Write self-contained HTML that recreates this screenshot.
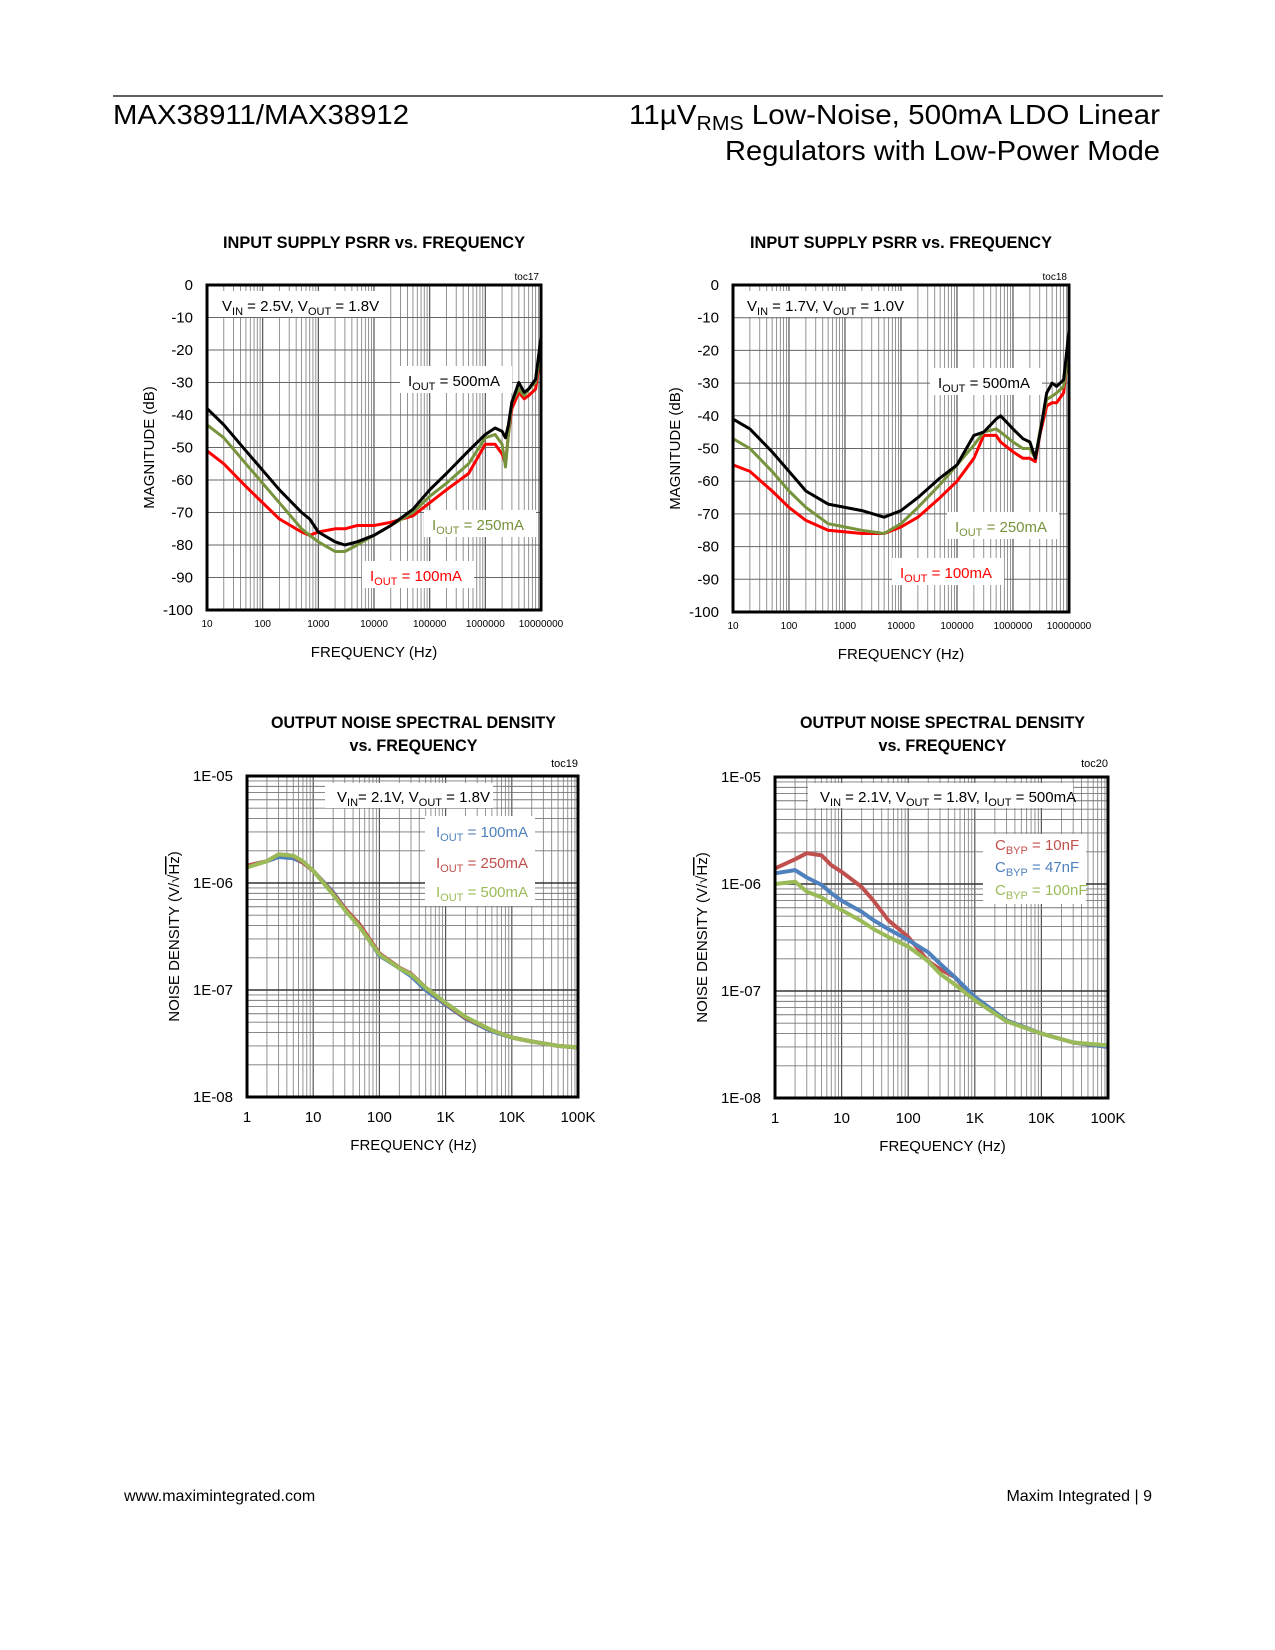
<!DOCTYPE html>
<html><head><meta charset="utf-8"><style>
html,body{margin:0;padding:0;background:#fff;}
svg{display:block;font-family:"Liberation Sans",Arial,sans-serif;}
</style></head><body>
<svg id="page" width="1275" height="1650" viewBox="0 0 1275 1650" xmlns="http://www.w3.org/2000/svg">
<rect width="1275" height="1650" fill="#fff"/>
<line x1="113" y1="96" x2="1163" y2="96" stroke="#000" stroke-width="1.2"/>
<text x="113" y="124" font-size="28" textLength="296" lengthAdjust="spacingAndGlyphs">MAX38911/MAX38912</text>
<text x="629" y="124" font-size="28" textLength="531" lengthAdjust="spacingAndGlyphs">11µV<tspan font-size="20" dy="6">RMS</tspan><tspan dy="-6"> Low-Noise, 500mA LDO Linear</tspan></text>
<text x="725" y="160" font-size="28" textLength="435" lengthAdjust="spacingAndGlyphs">Regulators with Low-Power Mode</text>
<text x="124" y="1501" font-size="16">www.maximintegrated.com</text>
<text x="1152" y="1501" font-size="16" text-anchor="end">Maxim Integrated | 9</text>
<g id="charts"></g>
</svg>
<script>
// ---------- Chart data ----------
// toc17
const psrr1Freq = [10,20,50,100,200,500,700,1000,2000,3000,5000,10000,20000,50000,1e5,2e5,5e5,1e6,1.5e6,2e6,2.3e6,2.6e6,3e6,4e6,5e6,6e6,8e6,1e7];
const psrr1Black = [-38,-43,-51,-57,-63,-70,-72,-76,-79,-80,-79,-77,-74,-69,-63,-58,-51,-46,-44,-45,-47,-43,-36,-30,-33,-32,-29,-16];
const psrr1Green = [-43,-47,-55,-61,-67,-75,-77,-79,-82,-82,-80,-77,-74,-70,-65,-61,-55,-47,-46,-49,-56,-46,-36,-32,-34,-32,-30,-20];
const psrr1Red = [-51,-55,-62,-67,-72,-76,-77,-76,-75,-75,-74,-74,-73,-71,-67,-63,-58,-49,-49,-52,-55,-46,-38,-33,-35,-34,-32,-20];
// toc18
const psrr2Freq = [10,20,50,100,200,500,1000,2000,5000,10000,20000,50000,1e5,2e5,3e5,5e5,6e5,1e6,1.5e6,2e6,2.5e6,3e6,4e6,5e6,6e6,8e6,1e7];
const psrr2Black = [-41,-44,-51,-57,-63,-67,-68,-69,-71,-69,-65,-59,-55,-46,-45,-41,-40,-44,-47,-48,-53,-46,-33,-30,-31,-29,-14];
const psrr2Green = [-47,-50,-57,-63,-68,-73,-74,-75,-76,-73,-68,-61,-55,-49,-45,-44,-45,-48,-50,-50,-53,-45,-35,-34,-33,-31,-20];
const psrr2Red = [-55,-57,-63,-68,-72,-75,-75.5,-76,-76,-74,-71,-65,-60,-53,-46,-46,-48,-51,-53,-53,-54,-46,-37,-36,-36,-33,-18];
const psrrYTicks = ["0","-10","-20","-30","-40","-50","-60","-70","-80","-90","-100"];
const psrrXTicks = ["10","100","1000","10000","100000","1000000","10000000"];
// toc19
const noise1Freq = [1,2,3,5,7,10,20,30,50,100,200,300,500,1000,2000,5000,10000,20000,50000,100000];
const noise1Blue = [1.45e-6,1.6e-6,1.75e-6,1.7e-6,1.55e-6,1.3e-6,8.2e-7,5.8e-7,4.0e-7,2.1e-7,1.6e-7,1.35e-7,1.0e-7,7.3e-8,5.4e-8,4.1e-8,3.6e-8,3.3e-8,3.0e-8,2.9e-8];
const noise1Red = [1.45e-6,1.6e-6,1.85e-6,1.8e-6,1.55e-6,1.3e-6,8.0e-7,5.8e-7,4.1e-7,2.2e-7,1.62e-7,1.42e-7,1.05e-7,7.5e-8,5.5e-8,4.2e-8,3.6e-8,3.3e-8,3.0e-8,2.9e-8];
const noise1Green = [1.4e-6,1.6e-6,1.85e-6,1.8e-6,1.6e-6,1.3e-6,7.8e-7,5.6e-7,3.9e-7,2.15e-7,1.6e-7,1.4e-7,1.05e-7,7.6e-8,5.6e-8,4.2e-8,3.6e-8,3.3e-8,3.0e-8,2.9e-8];
// toc20
const noise2Freq = [1,2,3,5,7,10,20,30,50,100,200,300,500,1000,3000,10000,30000,100000];
const noise2Red = [1.4e-6,1.7e-6,1.94e-6,1.85e-6,1.5e-6,1.3e-6,9.4e-7,7e-7,4.6e-7,3.2e-7,1.9e-7,1.6e-7,1.35e-7,8.2e-8,5.3e-8,4.0e-8,3.3e-8,3.0e-8];
const noise2Blue = [1.26e-6,1.35e-6,1.15e-6,9.8e-7,8.2e-7,7.0e-7,5.5e-7,4.6e-7,3.8e-7,3.0e-7,2.3e-7,1.8e-7,1.35e-7,8.8e-8,5.3e-8,4.0e-8,3.3e-8,3.0e-8];
const noise2Green = [1.0e-6,1.05e-6,8.5e-7,7.5e-7,6.5e-7,5.7e-7,4.5e-7,3.8e-7,3.2e-7,2.6e-7,1.9e-7,1.45e-7,1.15e-7,8.2e-8,5.2e-8,4.0e-8,3.3e-8,3.1e-8];
const noiseYTicks = ["1E-05","1E-06","1E-07","1E-08"];
const noiseXTicks = ["1","10","100","1K","10K","100K"];

const NS = "http://www.w3.org/2000/svg";
const root = document.getElementById('charts');
function mk(tag, attrs, parent){
  const e = document.createElementNS(NS, tag);
  for (const k in attrs) e.setAttribute(k, attrs[k]);
  (parent||root).appendChild(e);
  return e;
}
function logX(c, f){ return c.x0 + (Math.log10(f) - c.dLo) / (c.dHi - c.dLo) * (c.x1 - c.x0); }
function linY(c, v){ return c.y0 + (c.yTop - v) / (c.yTop - c.yBot) * (c.y1 - c.y0); }
function logY(c, v){ return c.y0 + (c.yTop - Math.log10(v)) / (c.yTop - c.yBot) * (c.y1 - c.y0); }

function drawGrid(c, g){
  for (let d = c.dLo; d < c.dHi; d++){
    for (let m = 1; m < 10; m++){
      const x = logX(c, Math.pow(10, d) * m);
      mk('line', {x1:x, y1:c.y0, x2:x, y2:c.y1, stroke: m===1?'#555':'#888', 'stroke-width': m===1?1.2:0.9}, g);
    }
  }
  if (c.logy){
    for (let d = c.yBot; d < c.yTop; d++){
      for (let m = 1; m < 10; m++){
        const y = logY(c, Math.pow(10, d) * m);
        mk('line', {x1:c.x0, y1:y, x2:c.x1, y2:y, stroke: m===1?'#333':'#777', 'stroke-width': m===1?1.4:0.9}, g);
      }
    }
  } else {
    for (let v = c.yBot; v <= c.yTop; v += 10){
      const y = linY(c, v);
      mk('line', {x1:c.x0, y1:y, x2:c.x1, y2:y, stroke:'#666', 'stroke-width':1}, g);
    }
  }
}
function drawSeries(c, g, xs, ys, color, w, name){
  const pts = xs.map((f,i) => logX(c,f).toFixed(1) + ',' + (c.logy ? logY(c, ys[i]) : linY(c, ys[i])).toFixed(1)).join(' ');
  const pl = mk('polyline', {points:pts, fill:'none', stroke:color, 'stroke-width':w, 'stroke-linejoin':'round'}, g);
  
  
}
function labelBox(g, x, y, w, h, name){
  const r = mk('rect', {x:x, y:y, width:w, height:h, fill:'#fff'}, g);
  
  
}
function txt(g, x, y, s, size, attrs, name){
  const t = mk('text', Object.assign({x:x, y:y, 'font-size':size}, attrs||{}), g);
  t.innerHTML = s;
  
  
  return t;
}
function frame(c, g){
  const r = mk('rect', {x:c.x0, y:c.y0, width:c.x1-c.x0, height:c.y1-c.y0, fill:'none', stroke:'#000', 'stroke-width':3}, g);
  
  
}

// ---------- PSRR charts ----------
function psrrChart(c, freq, black, green, red, id, vinText, ann){
  const g = mk('g', {});
  
  
  const cx = (c.x0 + c.x1) / 2;
  txt(g, cx, 248, 'INPUT SUPPLY PSRR vs. FREQUENCY', 17, {'text-anchor':'middle','font-weight':'bold', textLength:302, lengthAdjust:'spacingAndGlyphs'}, 'chart-title');
  txt(g, c.x1-2, 280, id, 10, {'text-anchor':'end'}, 'figure-id');
  drawGrid(c, g);
  labelBox(g, ann.vin[0], ann.vin[1], ann.vin[2], 26, 'condition-box');
  labelBox(g, ann.a500[0]-8, ann.a500[1]-20, 112, 27, 'label-box-500ma');
  labelBox(g, ann.a250[0]-8, ann.a250[1]-20, 112, 27, 'label-box-250ma');
  labelBox(g, ann.a100[0]-8, ann.a100[1]-20, 112, 27, 'label-box-100ma');
  drawSeries(c, g, freq, red, '#ff0000', 3, 'series-100ma');
  drawSeries(c, g, freq, green, '#77933c', 3, 'series-250ma');
  drawSeries(c, g, freq, black, '#000000', 3, 'series-500ma');
  frame(c, g);
  txt(g, ann.vin[0]+9, ann.vin[1]+20, vinText, 15, {}, 'condition-label');
  txt(g, ann.a500[0], ann.a500[1], 'I<tspan font-size="11" dy="4">OUT</tspan><tspan dy="-4"> = 500mA</tspan>', 15, {fill:'#000'}, 'label-500ma');
  txt(g, ann.a250[0], ann.a250[1], 'I<tspan font-size="11" dy="4">OUT</tspan><tspan dy="-4"> = 250mA</tspan>', 15, {fill:'#77933c'}, 'label-250ma');
  txt(g, ann.a100[0], ann.a100[1], 'I<tspan font-size="11" dy="4">OUT</tspan><tspan dy="-4"> = 100mA</tspan>', 15, {fill:'#ff0000'}, 'label-100ma');
  psrrYTicks.forEach((s,i) => {
    txt(g, c.x0-14, linY(c, c.yTop - i*10) + 5, s, 15, {'text-anchor':'end'}, 'y-tick-label');
  });
  psrrXTicks.forEach((s,i) => {
    txt(g, logX(c, Math.pow(10, c.dLo + i)), c.y1 + 17, s, 10, {'text-anchor':'middle'}, 'x-tick-label');
  });
  txt(g, cx, c.y1 + 47, 'FREQUENCY (Hz)', 15, {'text-anchor':'middle'}, 'x-axis-title');
  const ym = (c.y0 + c.y1) / 2;
  txt(g, c.x0 - 53, ym, 'MAGNITUDE (dB)', 15, {'text-anchor':'middle', transform:'rotate(-90 ' + (c.x0-53) + ' ' + ym + ')'}, 'y-axis-title');
}
psrrChart({x0:207,x1:541,y0:285,y1:610,dLo:1,dHi:7,yTop:0,yBot:-100,logy:false},
  psrr1Freq, psrr1Black, psrr1Green, psrr1Red, 'toc17',
  'V<tspan font-size="11" dy="4">IN</tspan><tspan dy="-4"> = 2.5V, V</tspan><tspan font-size="11" dy="4">OUT</tspan><tspan dy="-4"> = 1.8V</tspan>',
  {vin:[213,291,165], a500:[408,386], a250:[432,530], a100:[370,581]});
psrrChart({x0:733,x1:1069,y0:285,y1:612,dLo:1,dHi:7,yTop:0,yBot:-100,logy:false},
  psrr2Freq, psrr2Black, psrr2Green, psrr2Red, 'toc18',
  'V<tspan font-size="11" dy="4">IN</tspan><tspan dy="-4"> = 1.7V, V</tspan><tspan font-size="11" dy="4">OUT</tspan><tspan dy="-4"> = 1.0V</tspan>',
  {vin:[738,291,165], a500:[938,388], a250:[955,532], a100:[900,578]});

// ---------- Noise charts ----------
function noiseChart(c, freq, s1, s2, s3, cols, names, labels, id, vinText, vinBox, legBox, legY, legX){
  const g = mk('g', {});
  
  
  const cx = (c.x0 + c.x1) / 2 + 1;
  txt(g, cx, 728, 'OUTPUT NOISE SPECTRAL DENSITY', 17, {'text-anchor':'middle','font-weight':'bold', textLength:285, lengthAdjust:'spacingAndGlyphs'}, 'chart-title-line1');
  txt(g, cx, 751, 'vs. FREQUENCY', 17, {'text-anchor':'middle','font-weight':'bold', textLength:128, lengthAdjust:'spacingAndGlyphs'}, 'chart-title-line2');
  txt(g, c.x1, 767, id, 11, {'text-anchor':'end'}, 'figure-id');
  drawGrid(c, g);
  labelBox(g, vinBox[0], vinBox[1], vinBox[2], 25, 'condition-box');
  labelBox(g, legBox[0], legBox[1], legBox[2], legBox[3], 'legend-box');
  drawSeries(c, g, freq, s1, cols[0], 4, names[0]);
  drawSeries(c, g, freq, s2, cols[1], 4, names[1]);
  drawSeries(c, g, freq, s3, cols[2], 4, names[2]);
  frame(c, g);
  txt(g, vinBox[0]+12, vinBox[1]+19, vinText, 15, {}, 'condition-label');
  labels.forEach((s,i) => {
    txt(g, legX, legY[i], s, 15, {fill:cols[i]}, 'legend-entry');
  });
  noiseYTicks.forEach((s,i) => {
    txt(g, c.x0-14, logY(c, Math.pow(10, c.yTop - i)) + 5, s, 15, {'text-anchor':'end'}, 'y-tick-label');
  });
  noiseXTicks.forEach((s,i) => {
    txt(g, logX(c, Math.pow(10, c.dLo + i)), c.y1 + 25, s, 15, {'text-anchor':'middle'}, 'x-tick-label');
  });
  txt(g, cx, c.y1 + 53, 'FREQUENCY (Hz)', 15, {'text-anchor':'middle'}, 'x-axis-title');
  const ym = (c.y0 + c.y1) / 2;
  txt(g, c.x0 - 68, ym, 'NOISE DENSITY (V/√<tspan text-decoration="overline">Hz</tspan>)', 15, {'text-anchor':'middle', transform:'rotate(-90 ' + (c.x0-68) + ' ' + ym + ')'}, 'y-axis-title');
}
const sub = (a,b) => a + '<tspan font-size="11" dy="4">' + b + '</tspan><tspan dy="-4">';
noiseChart({x0:247,x1:578,y0:776,y1:1097,dLo:0,dHi:5,yTop:-5,yBot:-8,logy:true},
  noise1Freq, noise1Blue, noise1Red, noise1Green,
  ['#4f81bd','#c0504d','#9bbb59'], ['series-100ma','series-250ma','series-500ma'],
  [sub('I','OUT') + ' = 100mA</tspan>', sub('I','OUT') + ' = 250mA</tspan>', sub('I','OUT') + ' = 500mA</tspan>'],
  'toc19',
  'V<tspan font-size="11" dy="4">IN</tspan><tspan dy="-4">= 2.1V, V</tspan><tspan font-size="11" dy="4">OUT</tspan><tspan dy="-4"> = 1.8V</tspan>',
  [325,783,168], [425,816,110,90], [837,868,897], [436]);
noiseChart({x0:775,x1:1108,y0:777,y1:1098,dLo:0,dHi:5,yTop:-5,yBot:-8,logy:true},
  noise2Freq, noise2Red, noise2Blue, noise2Green,
  ['#c0504d','#4f81bd','#9bbb59'], ['series-cbyp-10nf','series-cbyp-47nf','series-cbyp-100nf'],
  [sub('C','BYP') + ' = 10nF</tspan>', sub('C','BYP') + ' = 47nF</tspan>', sub('C','BYP') + ' = 100nF</tspan>'],
  'toc20',
  'V<tspan font-size="11" dy="4">IN</tspan><tspan dy="-4"> = 2.1V, V</tspan><tspan font-size="11" dy="4">OUT</tspan><tspan dy="-4"> = 1.8V, I</tspan><tspan font-size="11" dy="4">OUT</tspan><tspan dy="-4"> =  500mA</tspan>',
  [808,783,265], [983,834,103,70], [850,872,895], [995]);
</script>
</body></html>
